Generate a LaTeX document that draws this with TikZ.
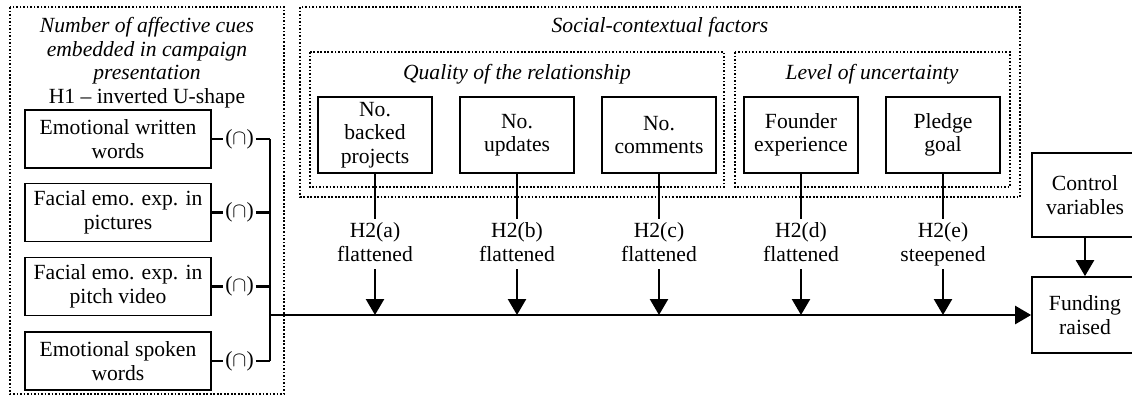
\documentclass[tikz,border=0pt]{standalone}
\usepackage{fontspec}
\setmainfont{Liberation Serif}
\usetikzlibrary{arrows.meta,positioning}

\begin{document}
\begin{tikzpicture}[x=0.02cm, y=-0.02cm,
  every node/.style={font=\fontsize{12.3}{13.4}\selectfont},
  cue/.style={draw, line width=1pt, align=center, inner sep=1pt, minimum width=3.72cm, minimum height=1.16cm},
  factor/.style={draw, line width=1pt, align=center, inner sep=1pt, minimum width=2.28cm, minimum height=1.52cm},
  outcome/.style={draw, line width=1pt, align=center, inner sep=1pt, minimum width=2.12cm},
  frame/.style={draw, line width=0.8pt, dash pattern=on 1pt off 1pt},
  grouptitle/.style={font=\fontsize{12.3}{13.4}\selectfont\itshape, align=center, inner sep=0pt},
  hyp/.style={align=center, inner sep=2pt, text depth=0.25em},
  link/.style={line width=1.4pt},
  arr/.style={link, -{Triangle[width=0.36cm,length=0.32cm]}}]
  \useasboundingbox (0,0) rectangle (1132,396);
  % affective cues
  \draw[frame] (10,7) rectangle (284,394);
  \node[grouptitle, anchor=north] (cuestitle) at (147,17) {Number of affective cues\\embedded in campaign\\presentation\\{\upshape H1 -- inverted U-shape}};
  \node[cue] (ew) at (118,139) {Emotional written\\words};
  \node[cue] (fp) at (118,212.5) {Facial emo. exp. in\\pictures};
  \node[cue] (fv) at (118,286.5) {Facial emo. exp. in\\pitch video};
  \node[cue] (es) at (118,361) {Emotional spoken\\words};
  \node[inner sep=1pt] (u1) at (239.5,139) {($\cap$)};
  \node[inner sep=1pt] (u2) at (239.5,212.5) {($\cap$)};
  \node[inner sep=1pt] (u3) at (239.5,286.5) {($\cap$)};
  \node[inner sep=1pt] (u4) at (239.5,361) {($\cap$)};
  \coordinate (b1) at (270,139);
  \coordinate (b2) at (270,212.5);
  \coordinate (b3) at (270,286.5);
  \coordinate (b4) at (270,361);
  \coordinate (bj) at (270,315);
  \draw[link] (ew.east) -- (u1.west);
  \draw[link] (fp.east) -- (u2.west);
  \draw[link] (fv.east) -- (u3.west);
  \draw[link] (es.east) -- (u4.west);
  \draw[link] (u1.east) -- (b1);
  \draw[link] (u2.east) -- (b2);
  \draw[link] (u3.east) -- (b3);
  \draw[link] (u4.east) -- (b4);
  \draw[link] (b1) -- (b4);
  % social-contextual factors
  \draw[frame] (300,7) rectangle (1020,197);
  \node[grouptitle] (socialtitle) at (660,27) {Social-contextual factors};
  \draw[frame] (310,52) rectangle (724,187);
  \node[grouptitle] (qualtitle) at (517,74) {Quality of the relationship};
  \draw[frame] (735,52) rectangle (1010,187);
  \node[grouptitle] (unctitle) at (872,74) {Level of uncertainty};
  \node[factor] (bp) at (375,135) {No.\\backed\\projects};
  \node[factor] (up) at (517,135) {No.\\updates};
  \node[factor] (cm) at (659,135) {No.\\comments};
  \node[factor] (fe) at (801,135) {Founder\\experience};
  \node[factor] (pg) at (943,135) {Pledge\\goal};
  % outcome
  \node[outcome, minimum height=1.68cm] (ctrl) at (1085,195) {Control\\variables};
  \node[outcome, minimum height=1.52cm] (fund) at (1085,315) {Funding\\raised};
  \draw[arr] (ctrl) -- (fund);
  \draw[arr] (bj) -- (fund.west);
  % moderators
  \node[hyp] (ha) at (375,244) {H2(a)\\flattened};
  \node[hyp] (hb) at (517,244) {H2(b)\\flattened};
  \node[hyp] (hc) at (659,244) {H2(c)\\flattened};
  \node[hyp] (hd) at (801,244) {H2(d)\\flattened};
  \node[hyp] (he) at (943,244) {H2(e)\\steepened};
  \coordinate (ma) at (375,315);
  \coordinate (mb) at (517,315);
  \coordinate (mc) at (659,315);
  \coordinate (md) at (801,315);
  \coordinate (me) at (943,315);
  \draw[link] (bp) -- (ha);
  \draw[link] (up) -- (hb);
  \draw[link] (cm) -- (hc);
  \draw[link] (fe) -- (hd);
  \draw[link] (pg) -- (he);
  \draw[arr] (ha) -- (ma);
  \draw[arr] (hb) -- (mb);
  \draw[arr] (hc) -- (mc);
  \draw[arr] (hd) -- (md);
  \draw[arr] (he) -- (me);
\end{tikzpicture}
\end{document}
